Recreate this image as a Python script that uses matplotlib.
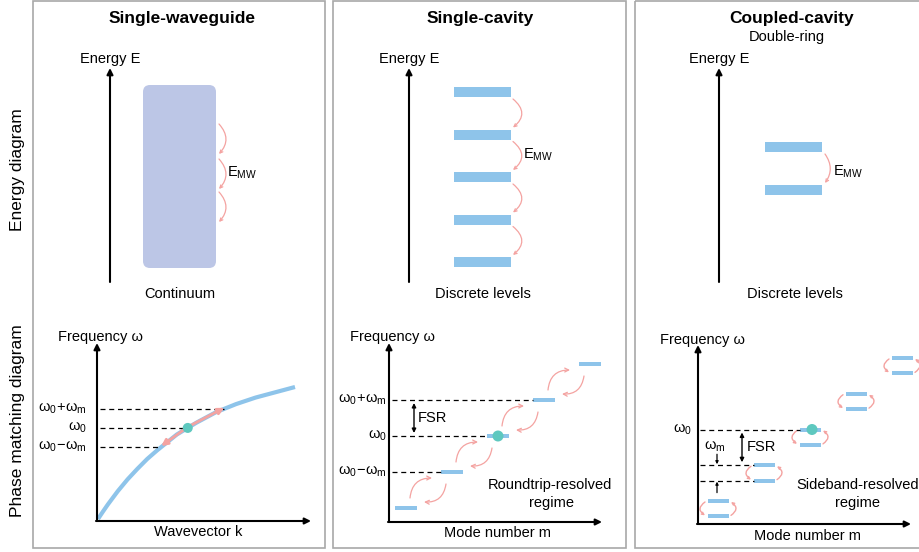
import numpy as np
import matplotlib
matplotlib.use("Agg")
import matplotlib.pyplot as plt
from matplotlib.patches import Rectangle, FancyBboxPatch, FancyArrowPatch, Circle

plt.rcParams['font.family'] = ['Liberation Sans', 'DejaVu Sans']
plt.rcParams['mathtext.fontset'] = 'custom'
plt.rcParams['mathtext.rm'] = 'Liberation Sans'
plt.rcParams['mathtext.it'] = 'Liberation Sans:italic'
plt.rcParams['mathtext.bf'] = 'Liberation Sans:bold'

# ---- schematic data ----
panel_titles = ['Single-waveguide', 'Single-cavity', 'Coupled-cavity']
energy_captions = ['Continuum', 'Discrete levels', 'Discrete levels']
row_labels = ['Energy diagram', 'Phase matching diagram']

# single-cavity ladder and coupled-cavity doublet (units of E_MW)
cavity_levels = [0, 1, 2, 3, 4]
doublet_levels = [0, 1]

# waveguide dispersion, normalised k and omega
disp_k = [0, 0.025, 0.05, 0.075, 0.1, 0.15, 0.2, 0.25, 0.3, 0.4, 0.5, 0.6, 0.7, 0.8, 0.9, 1.0]
disp_w = [0, 0.056, 0.11, 0.16, 0.21, 0.30, 0.38, 0.455, 0.52, 0.64, 0.73, 0.81, 0.87, 0.92, 0.96, 1.0]
w0_wg = 0.69
wm_wg = 0.145

# cavity modes: mode number vs frequency offset (units of FSR)
mode_m = [-2, -1, 0, 1, 2]
mode_w = [-2, -1, 0, 1, 2]
wm_ratio = 0.43  # sideband splitting / FSR for the double ring

PINK = '#f4a3a1'
BLUE = '#8ec4ea'
TEAL = '#5ec8bf'
CONT = '#bcc6e6'
GREY = '#a8a8a8'
FS = 10.5

fig = plt.figure(figsize=(9.19, 5.52), dpi=100)
ax = fig.add_axes([0, 0, 1, 1])
ax.set_xlim(0, 919)
ax.set_ylim(552, 0)
ax.axis('off')


def arc(p0, p1, rad, style='->', lw=0.9, ms=6):
    ax.add_patch(FancyArrowPatch(p0, p1, connectionstyle=f'arc3,rad={rad}',
                                 arrowstyle=style, mutation_scale=ms, color=PINK,
                                 lw=lw, shrinkA=0, shrinkB=0))


def axis_arrow(p0, p1, lw=1.5, ms=9, style='-|>'):
    ax.annotate('', xy=p1, xytext=p0,
                arrowprops=dict(arrowstyle=style, color='black', lw=lw,
                                mutation_scale=ms, shrinkA=0, shrinkB=0))


def dashed(y, x0, x1):
    ax.plot([x0, x1], [y, y], color='black', lw=0.9, dashes=(4, 3))


def label(x, y, s, size=FS, **kw):
    ax.text(x, y, s, fontsize=size, ha=kw.pop('ha', 'center'), va=kw.pop('va', 'center'), **kw)


# panel frames
for x0, w in [(33, 292), (333, 293), (635, 300)]:
    ax.add_patch(Rectangle((x0, 1), w, 547, fill=False, edgecolor=GREY, lw=1.2))

# titles and row labels
for x, t in zip([182, 480, 792], panel_titles):
    label(x, 18, t, size=12.5, fontweight='bold')
label(787, 37, 'Double-ring')
label(18, 170, row_labels[0], size=12.5, rotation=90)
label(18, 421, row_labels[1], size=12.5, rotation=90)

# ---- energy diagrams ----
for x, cap_x, cap in zip([110, 409, 719], [180, 483, 795], energy_captions):
    axis_arrow((x, 282), (x, 68))
    label(x, 59, 'Energy E')
    label(cap_x, 294, cap)

EMW = r'$\mathregular{E_{MW}}$'

# continuum
ax.add_patch(FancyBboxPatch((143, 85), 73, 183, boxstyle='round,pad=0,rounding_size=7',
                            facecolor=CONT, edgecolor='none'))
for y0, y1 in [(124, 154), (159, 189), (192, 222)]:
    arc((219, y0), (219, y1), -0.45, ms=5)
label(227, 173, EMW, ha='left')

# single-cavity ladder
lvl_y = [262 - 42.5 * i for i in cavity_levels]
for y in lvl_y:
    ax.add_patch(Rectangle((454, y - 5), 57, 10, facecolor=BLUE, edgecolor='none'))
for ya, yb in zip(lvl_y[1:], lvl_y[:-1]):
    arc((513, ya + 7), (513, yb - 7), -0.6, ms=5)
label(523, 155, EMW, ha='left')

# coupled-cavity doublet
dbl_y = [190 - 43 * i for i in doublet_levels]
for y in dbl_y:
    ax.add_patch(Rectangle((765, y - 5), 57, 10, facecolor=BLUE, edgecolor='none'))
arc((825, dbl_y[1] + 7), (825, dbl_y[0] - 7), -0.35, ms=5)
label(833, 172, EMW, ha='left')

# ---- phase matching: waveguide ----
ox, oy, sx, sy = 98, 519, 197, 132
axis_arrow((97, 521), (97, 343))
axis_arrow((96, 521), (311, 521))
label(100, 337, 'Frequency ω')
label(198, 532, 'Wavevector k')
kx = ox + sx * np.array(disp_k)
wy = oy - sy * np.array(disp_w)
ax.plot(kx, wy, color=BLUE, lw=3, solid_capstyle='butt', solid_joinstyle='round', zorder=2)
wg_marks = [(w0_wg + wm_wg, r'$\mathregular{ω_0\!+\!ω_m}$'),
            (w0_wg, r'$\mathregular{ω_0}$'),
            (w0_wg - wm_wg, r'$\mathregular{ω_0\!-\!ω_m}$')]
pts = {}
for w, s in wg_marks:
    k = np.interp(w, disp_w, disp_k)
    y = oy - sy * w
    pts[s] = (ox + sx * k, y)
    dashed(y, 100, ox + sx * k)
    label(87, y, s, ha='right')
p_up, p_mid, p_dn = [pts[s] for _, s in wg_marks]
for p in (p_up, p_dn):
    ax.add_patch(FancyArrowPatch((p_mid[0], p_mid[1] - 1), (p[0], p[1] - 1),
                                 arrowstyle='-|>', mutation_scale=9, color=PINK,
                                 lw=2, shrinkA=0, shrinkB=0, zorder=3))
ax.add_patch(Circle(p_mid, 5, facecolor=TEAL, edgecolor='none', zorder=4))

# ---- phase matching: single cavity ----
cx, cy, dx, dy = 498, 436, 46, 36
axis_arrow((389, 522), (389, 343))
axis_arrow((388, 522), (602, 522))
label(393, 337, 'Frequency ω')
label(498, 533, 'Mode number m')
xs = [cx + dx * m for m in mode_m]
ys = [cy - dy * w for w in mode_w]
for x, y in zip(xs, ys):
    ax.add_patch(Rectangle((x - 11, y - 2), 22, 4, facecolor=BLUE, edgecolor='none'))
for (x, y) in zip(xs[:-1], ys[:-1]):
    arc((x + 4, y - 10), (x + 26, y - 30), -0.45, ms=7)
    arc((x + 40, y - 24), (x + 18, y - 6), -0.45, ms=7)
cav_marks = [(1, r'$\mathregular{ω_0\!+\!ω_m}$'), (0, r'$\mathregular{ω_0}$'),
             (-1, r'$\mathregular{ω_0\!-\!ω_m}$')]
for w, s in cav_marks:
    y = cy - dy * w
    dashed(y, 392, cx + dx * w - 11)
    label(387, y, s, ha='right')
axis_arrow((414, cy - dy + 3), (414, cy - 3), lw=1, ms=6, style='<|-|>')
label(418, 418, 'FSR', ha='left')
ax.add_patch(Circle((cx, cy), 5.5, facecolor=TEAL, edgecolor='none', zorder=4))
label(550, 485, 'Roundtrip-resolved')
label(552, 503, 'regime')

# ---- phase matching: coupled cavity ----
ex, ey, ex_d, ey_d = 810, 429.5, 46, 35.75
split = wm_ratio * ey_d
axis_arrow((698, 524), (698, 345))
axis_arrow((697, 524), (911, 524))
label(702, 340, 'Frequency ω')
label(808, 536, 'Mode number m')
for m, w in zip(mode_m, mode_w):
    x = ex + ex_d * m
    yt = ey - ey_d * w
    yb = yt + split
    for y in (yt, yb):
        ax.add_patch(Rectangle((x - 10.5, y - 2), 21, 4, facecolor=BLUE, edgecolor='none'))
    arc((x - 13, yt + 1), (x - 13, yb - 1), 0.7, lw=1, ms=4)
    arc((x + 13, yb - 1), (x + 13, yt + 1), 0.7, lw=1, ms=4)
y_m1 = ey + ey_d
dashed(ey, 700, ex - 10.5)
dashed(y_m1, 700, ex - ex_d - 10.5)
dashed(y_m1 + split, 700, ex - ex_d - 10.5)
label(692, ey, r'$\mathregular{ω_0}$', ha='right')
axis_arrow((742, ey + 3), (742, y_m1 - 3), lw=1, ms=6, style='<|-|>')
label(747, 447, 'FSR', ha='left')
label(715, 447, r'$\mathregular{ω_m}$')
axis_arrow((717, y_m1 - 11), (717, y_m1 - 1), lw=0.9, ms=4)
axis_arrow((717, y_m1 + split + 12), (717, y_m1 + split + 1), lw=0.9, ms=4)
ax.add_patch(Circle((ex + 2, ey), 5.5, facecolor=TEAL, edgecolor='none', zorder=4))
label(858, 485, 'Sideband-resolved')
label(857, 503, 'regime')

fig.savefig('out.png', dpi=100)
